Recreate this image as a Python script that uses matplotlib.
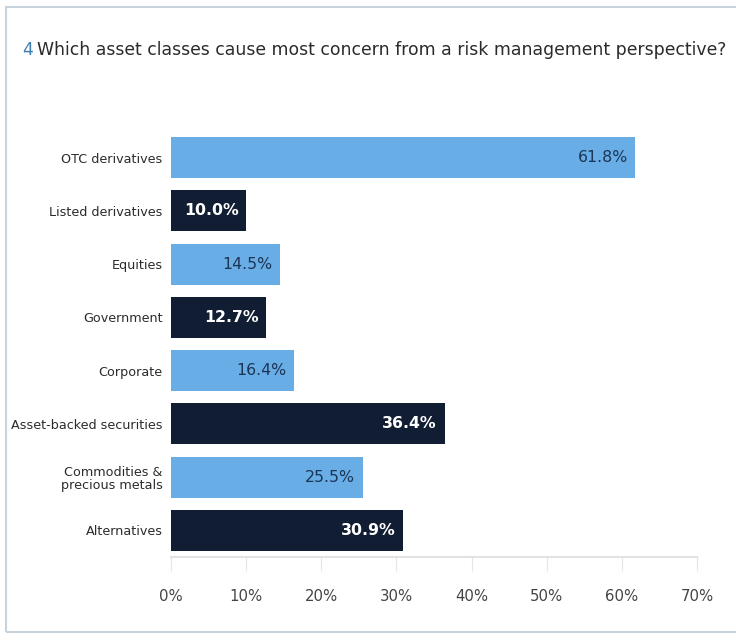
import matplotlib
matplotlib.use("Agg")
import matplotlib.pyplot as plt
from matplotlib import font_manager
from matplotlib.patches import Rectangle

categories = ["OTC derivatives", "Listed derivatives", "Equities", "Government",
              "Corporate", "Asset-backed securities", "Commodities &\nprecious metals",
              "Alternatives"]
values = [61.8, 10.0, 14.5, 12.7, 16.4, 36.4, 25.5, 30.9]
value_labels = ["61.8%", "10.0%", "14.5%", "12.7%", "16.4%", "36.4%", "25.5%", "30.9%"]
xticks = [0, 10, 20, 30, 40, 50, 60, 70]
xtick_labels = ["0%", "10%", "20%", "30%", "40%", "50%", "60%", "70%"]

# choose the narrowest available family
fp_main = None
for f in font_manager.fontManager.ttflist:
    if f.name == "Liberation Sans Narrow" and f.weight in (400, "normal", "regular"):
        fp_main = font_manager.FontProperties(fname=f.fname)
        break
if fp_main is None:
    for f in font_manager.fontManager.ttflist:
        if "DejaVuSansCondensed.ttf" in f.fname:
            fp_main = font_manager.FontProperties(fname=f.fname)
            break
if fp_main is None:
    fp_main = font_manager.FontProperties(family="Roboto")
fam_name = fp_main.get_name()
plt.rcParams["font.family"] = [fam_name, "DejaVu Sans"]

light = "#69ade6"
dark = "#111d33"
colors = [light if i % 2 == 0 else dark for i in range(len(values))]

fig = plt.figure(figsize=(7.36, 6.43), dpi=100)
W, H = 736, 643
fig.patches.append(Rectangle((6 / W, 1 - 632 / H), 1.2, (632 - 7) / H,
                             transform=fig.transFigure, fill=False,
                             edgecolor="#c9d3dd", linewidth=1.5))

t4 = fig.text(22 / W, 1 - 50 / H, "4", color="#3f7fb0", fontsize=19, va="center", ha="left")
title = fig.text(37 / W, 1 - 50 / H,
                 "Which asset classes cause most concern from a risk management perspective?",
                 color="#2b2b2b", fontsize=19, va="center", ha="left")

left, right = 171 / W, 697 / W
top_y, bot_y = 131, 557
ax = fig.add_axes([left, 1 - bot_y / H, right - left, (bot_y - top_y) / H])
y = list(range(len(values)))
ax.barh(y, values, height=0.77, color=colors)
ax.set_ylim(len(values) - 0.5, -0.5)
ax.set_xlim(0, 70)
ax.set_yticks(y)
ax.set_yticklabels(categories, fontsize=14, color="#2b2b2b", linespacing=1.0)
ax.tick_params(axis="y", length=0, pad=6)
ax.set_xticks(xticks)
ax.set_xticklabels(xtick_labels, fontsize=14, color="#444444")
ax.tick_params(axis="x", length=10, color="#e6e6e6", pad=13, direction="out")
for s in ["top", "right", "left"]:
    ax.spines[s].set_visible(False)
ax.spines["bottom"].set_color("#e3e3e3")
ax.spines["bottom"].set_linewidth(1.5)

vtexts = []
for i, (v, lab) in enumerate(zip(values, value_labels)):
    if colors[i] == dark:
        t = ax.text(v - 1.0, i, lab, ha="right", va="center", color="white",
                    fontsize=15, fontweight="bold")
    else:
        t = ax.text(v - 1.0, i, lab, ha="right", va="center", color="#1b3556",
                    fontsize=15)
    vtexts.append(t)

# fit font sizes to the reference text widths
fig.canvas.draw()
r = fig.canvas.get_renderer()

def width(t):
    return t.get_window_extent(r).width

s = 19 * 688 / width(title)
title.set_fontsize(s)
t4.set_fontsize(s)
ylabs = ax.get_yticklabels()
ys = 14 * 152 / width(ylabs[5])
for l in ylabs:
    l.set_fontsize(ys)
xs = 14 * 33 / width(ax.get_xticklabels()[-1])
for l in ax.get_xticklabels():
    l.set_fontsize(xs)
vs = 15 * 50 / width(vtexts[0])
for t in vtexts:
    t.set_fontsize(vs)

fig.savefig("out.png", dpi=100)
